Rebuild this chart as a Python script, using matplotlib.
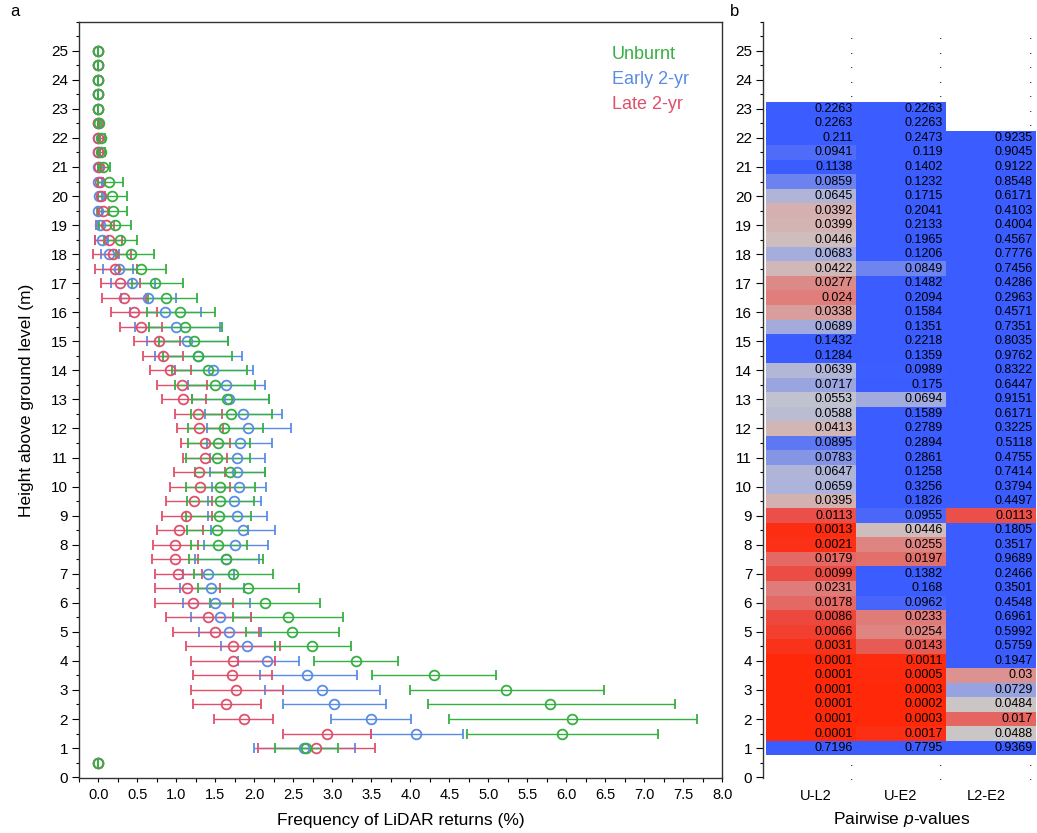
import numpy as np
import matplotlib
matplotlib.use('Agg')
import matplotlib.pyplot as plt
from matplotlib.colors import LinearSegmentedColormap, Normalize
from matplotlib.ticker import MultipleLocator, FormatStrFormatter

plt.rcParams['font.family'] = ['Liberation Sans', 'DejaVu Sans']
plt.rcParams['mathtext.fontset'] = 'custom'
plt.rcParams['mathtext.it'] = 'Liberation Sans:italic'
plt.rcParams['mathtext.rm'] = 'Liberation Sans'

# ---- panel a: vertical profile of LiDAR returns (mean, lower, upper) ----
heights = [0.5, 1.0, 1.5, 2.0, 2.5, 3.0, 3.5, 4.0, 4.5, 5.0,
           5.5, 6.0, 6.5, 7.0, 7.5, 8.0, 8.5, 9.0, 9.5, 10.0,
           10.5, 11.0, 11.5, 12.0, 12.5, 13.0, 13.5, 14.0, 14.5, 15.0,
           15.5, 16.0, 16.5, 17.0, 17.5, 18.0, 18.5, 19.0, 19.5, 20.0,
           20.5, 21.0, 21.5, 22.0, 22.5, 23.0, 23.5, 24.0, 24.5, 25.0]

unburnt_mean = [0, 2.66, 5.94, 6.07, 5.79, 5.23, 4.30, 3.30, 2.74, 2.48,
                2.43, 2.13, 1.92, 1.73, 1.63, 1.53, 1.52, 1.54, 1.56, 1.56,
                1.69, 1.52, 1.53, 1.61, 1.70, 1.65, 1.49, 1.41, 1.27, 1.22,
                1.11, 1.04, 0.87, 0.73, 0.55, 0.42, 0.27, 0.21, 0.18, 0.17,
                0.13, 0.06, 0.03, 0.03, 0.01, 0, 0, 0, 0, 0]
unburnt_lo = [0, 2.27, 4.73, 4.49, 4.22, 3.99, 3.51, 2.77, 2.26, 1.89,
              1.73, 1.43, 1.28, 1.22, 1.16, 1.18, 1.14, 1.12, 1.13, 1.12,
              1.24, 1.12, 1.15, 1.15, 1.19, 1.20, 0.98, 0.94, 0.83, 0.77,
              0.65, 0.62, 0.63, 0.43, 0.26, 0.22, 0.07, 0.01, 0.0, 0.0,
              0.0, 0.0, 0.0, 0.0, 0.0, 0, 0, 0, 0, 0]
unburnt_hi = [0, 3.07, 7.17, 7.67, 7.39, 6.48, 5.10, 3.84, 3.24, 3.09,
              3.13, 2.84, 2.57, 2.24, 2.11, 1.90, 1.92, 1.96, 1.99, 2.01,
              2.13, 1.94, 1.94, 2.11, 2.22, 2.19, 2.01, 1.90, 1.71, 1.66,
              1.58, 1.49, 1.26, 1.08, 0.86, 0.71, 0.50, 0.42, 0.36, 0.36,
              0.32, 0.15, 0.08, 0.08, 0.03, 0, 0, 0, 0, 0]

early_mean = [0, 2.63, 4.07, 3.49, 3.02, 2.87, 2.68, 2.16, 1.91, 1.68,
              1.56, 1.49, 1.44, 1.41, 1.63, 1.75, 1.85, 1.77, 1.74, 1.80,
              1.77, 1.78, 1.81, 1.92, 1.85, 1.68, 1.63, 1.47, 1.28, 1.13,
              1.00, 0.85, 0.63, 0.43, 0.26, 0.14, 0.05, 0.02, 0.0, 0.01,
              0, 0, 0, 0, 0, 0, 0, 0, 0, 0]
early_lo = [0, 2.00, 3.50, 2.98, 2.37, 2.13, 2.07, 1.79, 1.57, 1.29,
            1.18, 1.08, 1.04, 1.08, 1.24, 1.35, 1.44, 1.40, 1.41, 1.46,
            1.43, 1.43, 1.39, 1.39, 1.36, 1.20, 1.15, 0.98, 0.73, 0.62,
            0.47, 0.40, 0.29, 0.16, 0.06, 0.03, -0.04, 0, 0, 0,
            0, 0, 0, 0, 0, 0, 0, 0, 0, 0]
early_hi = [0, 3.29, 4.67, 4.01, 3.69, 3.61, 3.31, 2.57, 2.27, 2.08,
            1.96, 1.94, 1.87, 1.74, 2.06, 2.18, 2.27, 2.16, 2.09, 2.15,
            2.14, 2.13, 2.22, 2.47, 2.35, 2.19, 2.14, 1.98, 1.84, 1.66,
            1.56, 1.31, 1.00, 0.72, 0.44, 0.26, 0.12, 0.06, 0.05, 0.05,
            0.04, 0.03, 0.02, 0.02, 0.01, 0, 0, 0, 0, 0]

late_mean = [0, 2.79, 2.93, 1.86, 1.63, 1.76, 1.71, 1.72, 1.72, 1.49,
             1.41, 1.21, 1.13, 1.02, 0.98, 0.98, 1.03, 1.12, 1.22, 1.30,
             1.29, 1.36, 1.37, 1.29, 1.27, 1.09, 1.07, 0.92, 0.83, 0.77,
             0.55, 0.45, 0.33, 0.28, 0.21, 0.18, 0.13, 0.09, 0.06, 0.03,
             0.02, 0.005, 0, 0, 0, 0, 0, 0, 0, 0]
late_lo = [0, 2.04, 2.36, 1.48, 1.21, 1.19, 1.21, 1.19, 1.12, 0.96,
           0.86, 0.72, 0.72, 0.72, 0.69, 0.70, 0.75, 0.81, 0.87, 0.92,
           0.97, 1.08, 1.06, 1.01, 0.98, 0.81, 0.75, 0.66, 0.57, 0.46,
           0.28, 0.16, 0.05, 0.03, -0.04, -0.07, -0.05, -0.03, -0.02, -0.01,
           0, 0, 0, 0, 0, 0, 0, 0, 0, 0]
late_hi = [0, 3.54, 3.50, 2.24, 2.08, 2.36, 2.22, 2.26, 2.33, 2.06,
           1.96, 1.72, 1.56, 1.33, 1.28, 1.27, 1.34, 1.46, 1.45, 1.69,
           1.62, 1.65, 1.69, 1.60, 1.59, 1.38, 1.39, 1.18, 1.08, 1.05,
           0.82, 0.75, 0.61, 0.53, 0.50, 0.42, 0.30, 0.20, 0.14, 0.08,
           0.06, 0.03, 0.02, 0.02, 0.01, 0, 0, 0, 0, 0]

# ---- panel b: pairwise p-values by height ----
p_heights = [1.0, 1.5, 2.0, 2.5, 3.0, 3.5, 4.0, 4.5, 5.0, 5.5,
             6.0, 6.5, 7.0, 7.5, 8.0, 8.5, 9.0, 9.5, 10.0, 10.5,
             11.0, 11.5, 12.0, 12.5, 13.0, 13.5, 14.0, 14.5, 15.0, 15.5,
             16.0, 16.5, 17.0, 17.5, 18.0, 18.5, 19.0, 19.5, 20.0, 20.5,
             21.0, 21.5, 22.0, 22.5, 23.0]
p_u_l2 = [0.7196, 0.0001, 0.0001, 0.0001, 0.0001, 0.0001, 0.0001, 0.0031, 0.0066, 0.0086,
          0.0178, 0.0231, 0.0099, 0.0179, 0.0021, 0.0013, 0.0113, 0.0395, 0.0659, 0.0647,
          0.0783, 0.0895, 0.0413, 0.0588, 0.0553, 0.0717, 0.0639, 0.1284, 0.1432, 0.0689,
          0.0338, 0.024, 0.0277, 0.0422, 0.0683, 0.0446, 0.0399, 0.0392, 0.0645, 0.0859,
          0.1138, 0.0941, 0.211, 0.2263, 0.2263]
p_u_e2 = [0.7795, 0.0017, 0.0003, 0.0002, 0.0003, 0.0005, 0.0011, 0.0143, 0.0254, 0.0233,
          0.0962, 0.168, 0.1382, 0.0197, 0.0255, 0.0446, 0.0955, 0.1826, 0.3256, 0.1258,
          0.2861, 0.2894, 0.2789, 0.1589, 0.0694, 0.175, 0.0989, 0.1359, 0.2218, 0.1351,
          0.1584, 0.2094, 0.1482, 0.0849, 0.1206, 0.1965, 0.2133, 0.2041, 0.1715, 0.1232,
          0.1402, 0.119, 0.2473, 0.2263, 0.2263]
p_l2_e2 = [0.9369, 0.0488, 0.017, 0.0484, 0.0729, 0.03, 0.1947, 0.5759, 0.5992, 0.6961,
           0.4548, 0.3501, 0.2466, 0.9689, 0.3517, 0.1805, 0.0113, 0.4497, 0.3794, 0.7414,
           0.4755, 0.5118, 0.3225, 0.6171, 0.9151, 0.6447, 0.8322, 0.9762, 0.8035, 0.7351,
           0.4571, 0.2963, 0.4286, 0.7456, 0.7776, 0.4567, 0.4004, 0.4103, 0.6171, 0.8548,
           0.9122, 0.9045, 0.9235, None, None]
pairs = ['U-L2', 'U-E2', 'L2-E2']
# heights without a test, marked with a dot
empty_cells = {0: [0.0, 0.5, 23.5, 24.0, 24.5, 25.0, 25.5],
               1: [0.0, 0.5, 23.5, 24.0, 24.5, 25.0, 25.5],
               2: [0.0, 0.5, 22.5, 23.0, 23.5, 24.0, 24.5, 25.0, 25.5]}

W, H = 1037, 833
fig = plt.figure(figsize=(W / 100, H / 100), dpi=100)

ax = fig.add_axes([79 / W, 1 - 778.3 / H, 643.3 / W, 756.6 / H])
axb = fig.add_axes([763.3 / W, 1 - 778.3 / H, 276 / W, 756.6 / H])

series = [
    ('Early 2-yr', early_mean, early_lo, early_hi, '#5a8ce6'),
    ('Late 2-yr', late_mean, late_lo, late_hi, '#e0506a'),
    ('Unburnt', unburnt_mean, unburnt_lo, unburnt_hi, '#36b042'),
]
for name, m, lo, hi, col in series:
    m = np.array(m)
    err = np.vstack([m - np.array(lo), np.array(hi) - m])
    ax.errorbar(m, heights, xerr=err, fmt='o', mfc='none', mec=col, ms=7,
                mew=1.3, ecolor=col, elinewidth=1.0, capsize=3.5, capthick=1.0)

ax.set_xlim(-0.25, 8.0)
ax.set_ylim(-0.04, 26)
ax.xaxis.set_major_locator(MultipleLocator(0.5))
ax.xaxis.set_minor_locator(MultipleLocator(0.25))
ax.xaxis.set_major_formatter(FormatStrFormatter('%.1f'))
ax.yaxis.set_minor_locator(MultipleLocator(0.5))
ax.set_yticks(range(0, 26))
ax.tick_params(axis='x', which='both', direction='out', length=3, width=0.8,
               labelsize=10.5, pad=4)
ax.tick_params(axis='y', which='major', direction='out', length=5, width=0.8,
               labelsize=11, pad=3)
ax.tick_params(axis='y', which='minor', direction='out', length=2.5, width=0.8)
for s in ax.spines.values():
    s.set_linewidth(1.0)
    s.set_color('#333333')
ax.set_xlabel('Frequency of LiDAR returns (%)', fontsize=12.5, labelpad=8)
ax.set_ylabel('Height above ground level (m)', fontsize=12.5, labelpad=12)

leg_y = 0.956
for i, (name, col) in enumerate([('Unburnt', '#36b042'), ('Early 2-yr', '#5a8ce6'),
                                 ('Late 2-yr', '#e0506a')]):
    ax.text(0.8286, leg_y - i * 0.0324, name, color=col, fontsize=13,
            transform=ax.transAxes, ha='left', va='center')

# heatmap of p-values: red for small p, grey near 0.05, blue from 0.1 up
cmap = LinearSegmentedColormap.from_list('pval', [
    (0.0, (1.0, 0.16, 0.04)),
    (0.1, (0.92, 0.30, 0.27)),
    (0.25, (0.87, 0.51, 0.50)),
    (0.4, (0.83, 0.70, 0.70)),
    (0.5, (0.79, 0.79, 0.79)),
    (0.65, (0.69, 0.71, 0.85)),
    (0.8, (0.50, 0.57, 0.91)),
    (1.0, (0.23, 0.36, 1.0)),
])
norm = Normalize(vmin=0, vmax=0.1, clip=True)
cols = [p_u_l2, p_u_e2, p_l2_e2]
Z = np.array([[np.nan if v is None else v for v in c] for c in cols]).T
Z = np.ma.masked_invalid(Z)
ph = np.array(p_heights)
y_edges = np.append(ph - 0.25, ph[-1] + 0.25)
axb.pcolormesh([0, 1, 2, 3], y_edges, Z, cmap=cmap, norm=norm, shading='flat')
for j, c in enumerate(cols):
    for h, v in zip(p_heights, c):
        if v is None:
            continue
        axb.text(j + 0.965, h, str(v), ha='right', va='center', fontsize=9)
    for h in empty_cells[j]:
        axb.text(j + 0.965, h, '.', ha='right', va='center', fontsize=9)

axb.set_xlim(-0.03, 3.04)
axb.set_ylim(-0.04, 26)
axb.set_xticks([0.55, 1.5, 2.45])
axb.set_xticklabels(pairs)
axb.tick_params(axis='x', length=0, labelsize=10.5, pad=8)
axb.yaxis.set_minor_locator(MultipleLocator(0.5))
axb.set_yticks(range(0, 26))
axb.tick_params(axis='y', which='major', direction='out', length=5, width=0.8,
                labelsize=11, pad=3)
axb.tick_params(axis='y', which='minor', direction='out', length=2.5, width=0.8)
for k in ['top', 'right', 'bottom']:
    axb.spines[k].set_visible(False)
axb.spines['left'].set_linewidth(1.0)
axb.spines['left'].set_color('#333333')
axb.set_xlabel('Pairwise $p$-values', fontsize=12.5, labelpad=5)

fig.text(15 / W, 1 - 12 / H, 'a', fontsize=12, ha='center', va='center')
fig.text(735 / W, 1 - 12 / H, 'b', fontsize=12, ha='center', va='center')

fig.savefig('out.png', dpi=100)
